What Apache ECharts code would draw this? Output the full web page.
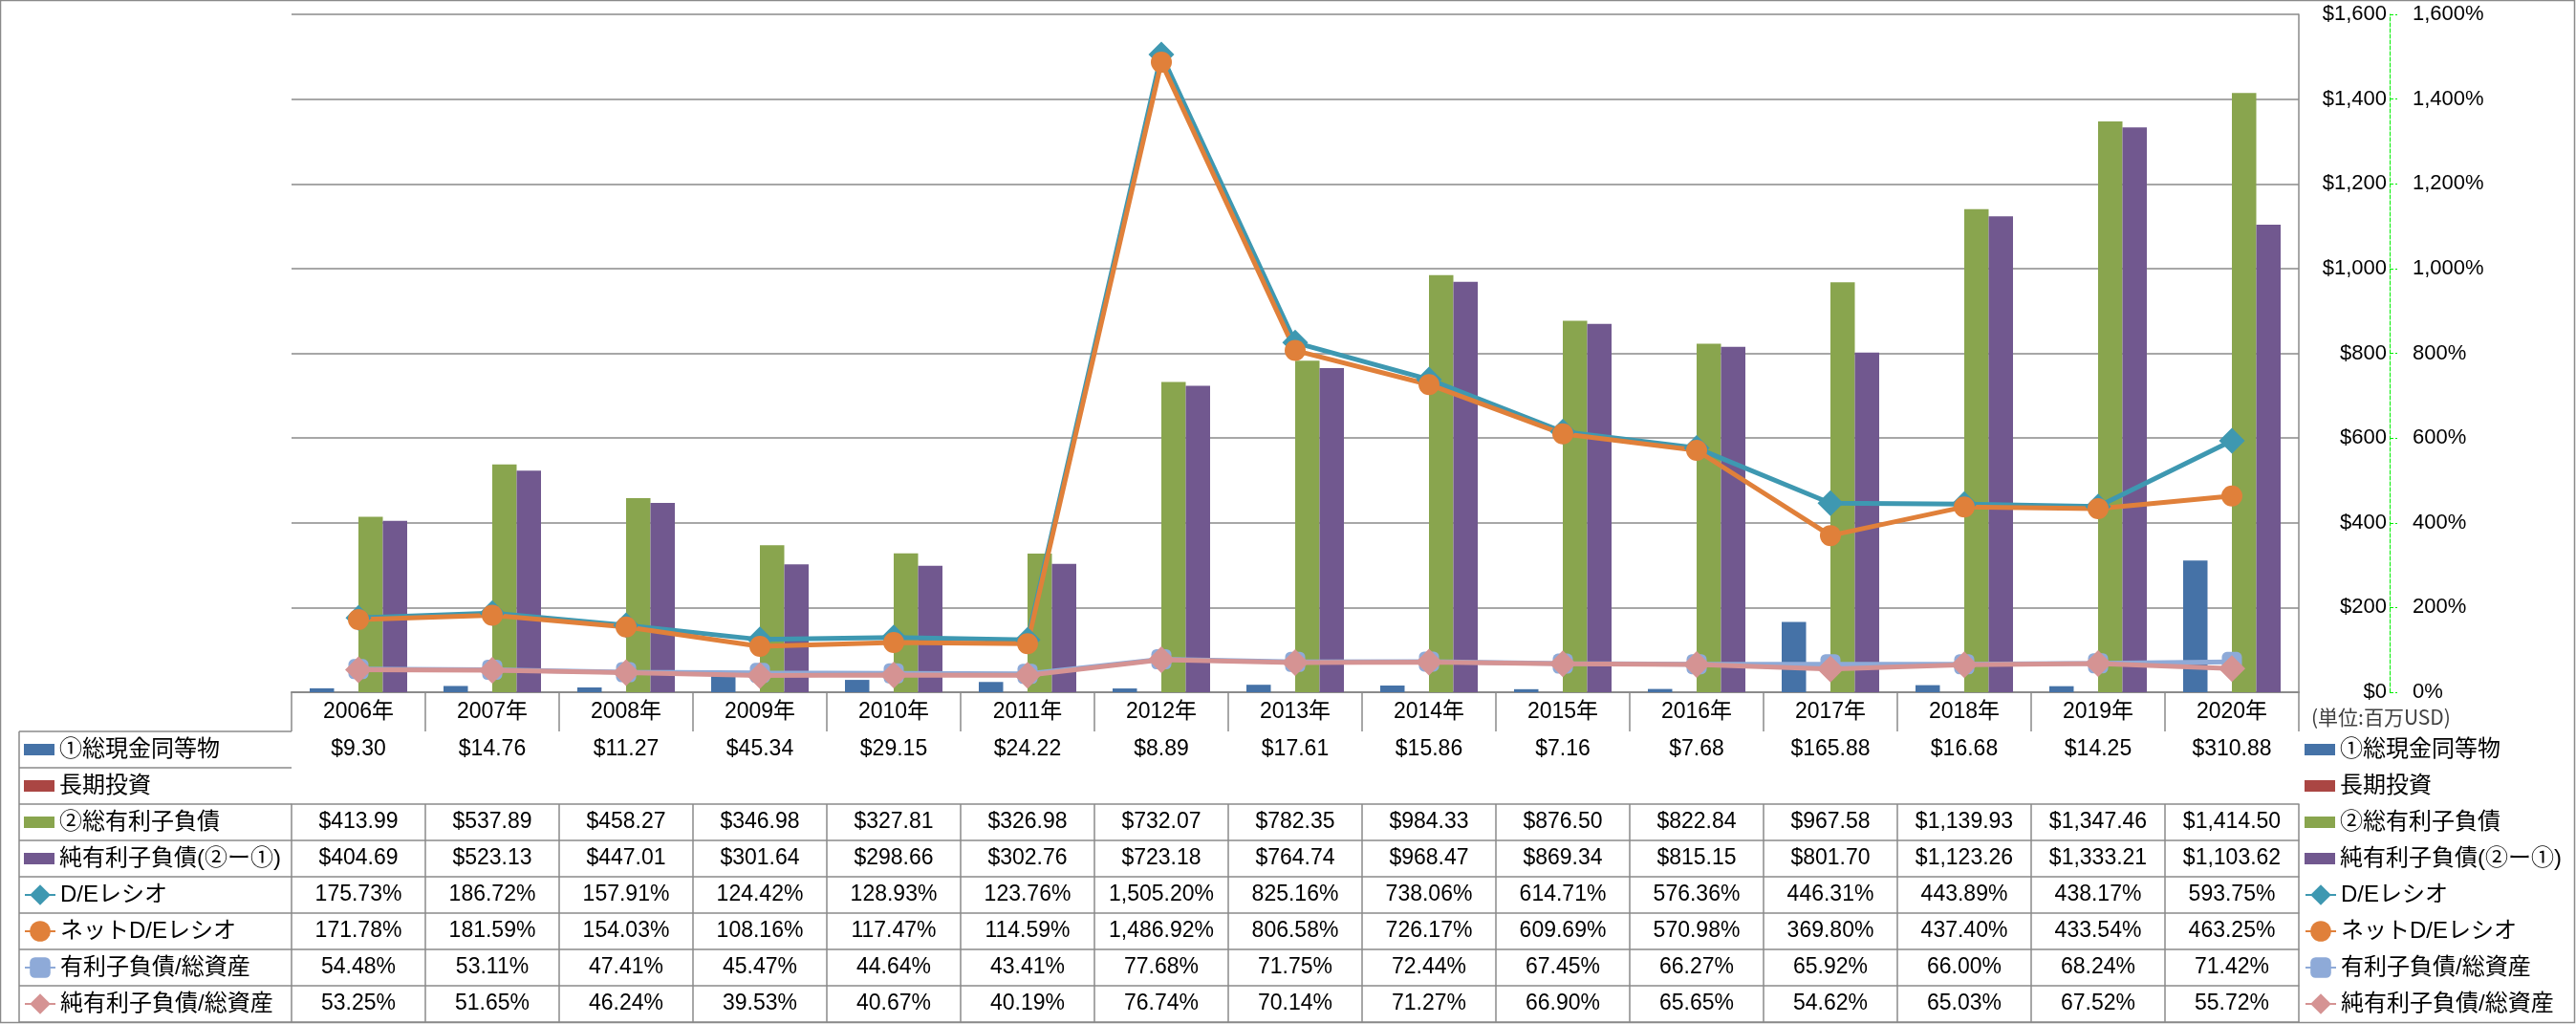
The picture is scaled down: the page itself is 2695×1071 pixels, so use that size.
<!DOCTYPE html>
<html><head><meta charset="utf-8">
<script src="https://cdn.jsdelivr.net/npm/echarts@6/dist/echarts.min.js"></script>
<style>html,body{margin:0;padding:0;background:#fff}#c{width:2695px;height:1071px}</style>
</head><body><div id="c"></div>
<script>
var years = ['2006年','2007年','2008年','2009年','2010年','2011年','2012年','2013年','2014年','2015年','2016年','2017年','2018年','2019年','2020年'];
var cash = [9.30,14.76,11.27,45.34,29.15,24.22,8.89,17.61,15.86,7.16,7.68,165.88,16.68,14.25,310.88];
var longInv = [null,null,null,null,null,null,null,null,null,null,null,null,null,null,null];
var totalDebt = [413.99,537.89,458.27,346.98,327.81,326.98,732.07,782.35,984.33,876.50,822.84,967.58,1139.93,1347.46,1414.50];
var netDebt = [404.69,523.13,447.01,301.64,298.66,302.76,723.18,764.74,968.47,869.34,815.15,801.70,1123.26,1333.21,1103.62];
var deRatio = [175.73,186.72,157.91,124.42,128.93,123.76,1505.20,825.16,738.06,614.71,576.36,446.31,443.89,438.17,593.75];
var netDeRatio = [171.78,181.59,154.03,108.16,117.47,114.59,1486.92,806.58,726.17,609.69,570.98,369.80,437.40,433.54,463.25];
var debtToAssets = [54.48,53.11,47.41,45.47,44.64,43.41,77.68,71.75,72.44,67.45,66.27,65.92,66.00,68.24,71.42];
var netDebtToAssets = [53.25,51.65,46.24,39.53,40.67,40.19,76.74,70.14,71.27,66.90,65.65,54.62,65.03,67.52,55.72];
var barNames = ['①総現金同等物','長期投資','②総有利子負債','純有利子負債(②ー①)'];
var lineNames = ['D/Eレシオ','ネットD/Eレシオ','有利子負債/総資産','純有利子負債/総資産'];
var yTicks = {min:0, max:1600, interval:200};

var FONT = "'Liberation Sans','Noto Sans CJK JP',sans-serif";
var GRAY = '#8a8a8a';
var colors = ['#4572A7','#AA4643','#89A54E','#71588F','#3E98B1','#E0803A','#8EAAD8','#D59393'];

function fmtNum(v){ return v.toLocaleString('en-US',{minimumFractionDigits:2,maximumFractionDigits:2}); }
function fmtD(v){ return (v==null)?'':'$'+fmtNum(v); }
function fmtP(v){ return (v==null)?'':fmtNum(v)+'%'; }

var tableRows = [
  [cash, fmtD],[longInv, fmtD],[totalDebt, fmtD],[netDebt, fmtD],
  [deRatio, fmtP],[netDeRatio, fmtP],[debtToAssets, fmtP],[netDebtToAssets, fmtP]
];

var PLOT_LEFT = 305, PLOT_RIGHT = 2405, PLOT_TOP = 15, PLOT_BOTTOM = 724;
var HEADER_H = 41, ROW_H = 38, TAB_LEFT = 20;

var xAxes = [{
  type:'category', data:years, gridIndex:0, position:'bottom', offset:0,
  axisLine:{show:true,lineStyle:{color:GRAY,width:1.5}},
  axisTick:{show:true,length:HEADER_H,lineStyle:{color:GRAY,width:1.5}},
  axisLabel:{interval:0,fontSize:23,color:'#000',fontFamily:FONT,margin:HEADER_H/2,verticalAlign:'middle'},
  splitLine:{show:false}
}];
tableRows.forEach(function(r,i){
  xAxes.push({
    type:'category', data:years, gridIndex:0, position:'bottom', offset:HEADER_H+ROW_H*i,
    axisLine:{show:true,lineStyle:{color:GRAY,width:1.5}},
    axisTick:{show:true,length:ROW_H,lineStyle:{color:GRAY,width:1.5}},
    axisLabel:{interval:0,fontSize:23,color:'#000',fontFamily:FONT,margin:ROW_H/2,verticalAlign:'middle',
      formatter:(function(arr,f){return function(v,idx){return f(arr[idx]);};})(r[0],r[1])},
    splitLine:{show:false}
  });
});
xAxes.push({
  type:'category', data:years, gridIndex:0, position:'bottom', offset:HEADER_H+ROW_H*tableRows.length,
  axisLine:{show:true,lineStyle:{color:GRAY,width:1.5}}, axisTick:{show:false}, axisLabel:{show:false}, splitLine:{show:false}
});

var yAxes = [
  {type:'value', min:yTicks.min, max:yTicks.max, interval:yTicks.interval, position:'right', offset:95,
   axisLine:{show:false}, axisTick:{show:false},
   axisLabel:{inside:true, margin:3, fontSize:22, color:'#000', fontFamily:FONT,
     formatter:function(v){return '$'+v.toLocaleString('en-US');}},
   splitLine:{show:true,lineStyle:{color:GRAY,width:1.5}}},
  {type:'value', min:yTicks.min, max:yTicks.max, interval:yTicks.interval, position:'right', offset:95,
   axisLine:{show:true,lineStyle:{color:'#00ee00',type:'dashed',width:1}},
   axisTick:{show:true,length:8,lineStyle:{color:'#00ee00',type:'dashed',width:1}},
   axisLabel:{margin:24, fontSize:22, color:'#000', fontFamily:FONT,
     formatter:function(v){return v.toLocaleString('en-US')+'%';}},
   splitLine:{show:false}},
  {type:'value', min:yTicks.min, max:yTicks.max, interval:yTicks.interval, position:'right', offset:0,
   axisLine:{show:true,lineStyle:{color:GRAY,width:1.5}}, axisTick:{show:false}, axisLabel:{show:false}, splitLine:{show:false}}
];

function bar(name, data, c){
  return {name:name,type:'bar',data:data,xAxisIndex:0,yAxisIndex:0,barWidth:25.5,barGap:'0%',
    itemStyle:{color:c}};
}
function line(name, data, c, sym, size){
  return {name:name,type:'line',data:data,xAxisIndex:0,yAxisIndex:1,symbol:sym,symbolSize:size,
    lineStyle:{color:c,width:5},itemStyle:{color:c,borderWidth:0}};
}

function mkLegend(left, top, names, ih, isBar){
  return {orient:'vertical', left:left, top:top, itemGap:0, itemWidth:32, itemHeight:ih, padding:0, itemTextGap:5,
    symbolKeepAspect:true,
    textStyle:{fontSize:24,lineHeight:ROW_H,color:'#000',fontFamily:FONT}, selectedMode:false,
    data:names.map(function(n){ return isBar ? {name:n, icon:'path://M0,0H32V12H0Z'} : {name:n}; })};
}
var barTop = PLOT_BOTTOM+HEADER_H, lineTop = PLOT_BOTTOM+HEADER_H+ROW_H*4;

var gLines = [];
gLines.push({type:'line',shape:{x1:TAB_LEFT,y1:barTop,x2:TAB_LEFT,y2:barTop+ROW_H*8},style:{stroke:GRAY,lineWidth:1.5}});
for (var k=0;k<=8;k++){
  var yy = barTop+ROW_H*k;
  gLines.push({type:'line',shape:{x1:TAB_LEFT,y1:yy,x2:PLOT_LEFT,y2:yy},style:{stroke:GRAY,lineWidth:1.5}});
}
gLines.push({type:'rect',shape:{x:0.5,y:0.5,width:2693,height:1069},style:{fill:null,stroke:GRAY,lineWidth:1.5}});

var chart = echarts.init(document.getElementById('c'));
chart.setOption({
  animation:false,
  backgroundColor:'#fff',
  textStyle:{fontFamily:FONT},
  title:{text:'(単位:百万USD)', left:2418, top:740, padding:0,
    textStyle:{fontSize:21,fontWeight:'normal',color:'#404040',fontFamily:"'Noto Sans CJK JP',sans-serif"}},
  grid:{left:PLOT_LEFT, right:2695-PLOT_RIGHT, top:PLOT_TOP, bottom:1071-PLOT_BOTTOM, containLabel:false},
  legend:[
    mkLegend(25, barTop, barNames, 32, true),
    mkLegend(25, lineTop, lineNames, 27, false),
    mkLegend(2411, barTop, barNames, 32, true),
    mkLegend(2411, lineTop, lineNames, 27, false)
  ],
  xAxis:xAxes,
  yAxis:yAxes,
  graphic:gLines,
  series:[
    bar(barNames[0], cash, colors[0]),
    bar(barNames[1], longInv, colors[1]),
    bar(barNames[2], totalDebt, colors[2]),
    bar(barNames[3], netDebt, colors[3]),
    line(lineNames[0], deRatio, colors[4], 'diamond', 27),
    line(lineNames[1], netDeRatio, colors[5], 'circle', 22),
    line(lineNames[2], debtToAssets, colors[6], 'roundRect', 21),
    line(lineNames[3], netDebtToAssets, colors[7], 'diamond', 28)
  ]
});
</script></body></html>
